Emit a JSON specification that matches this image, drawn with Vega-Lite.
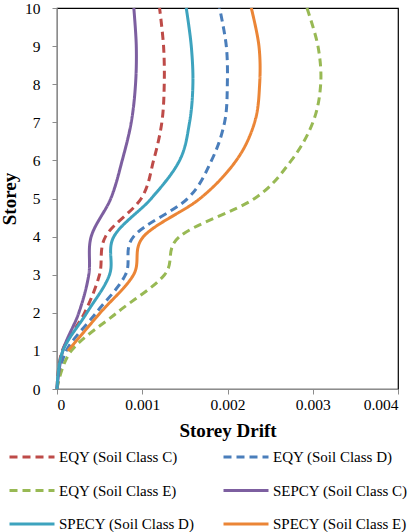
{
  "$schema": "https://vega.github.io/schema/vega-lite/v6.json",
  "width": 341,
  "height": 381,
  "autosize": {"type": "none"},
  "padding": {"left": 57, "top": 8, "right": 21, "bottom": 143},
  "background": "white",
  "config": {
    "view": {"stroke": "#000000", "strokeWidth": 1.2},
    "font": "Liberation Serif",
    "axis": {
      "grid": false,
      "domainColor": "#8c8c8c",
      "tickColor": "#8c8c8c",
      "tickSize": 5,
      "labelFont": "Liberation Serif",
      "labelFontSize": 15.5,
      "labelColor": "#000000",
      "titleFont": "Liberation Serif",
      "titleFontWeight": "bold",
      "titleFontSize": 19,
      "titleColor": "#000000"
    }
  },
  "data": {
    "values": [
      {"series": "EQY (Soil Class C)", "storey": 0, "drift": 0},
      {"series": "EQY (Soil Class C)", "storey": 1, "drift": 0.000061},
      {"series": "EQY (Soil Class C)", "storey": 2, "drift": 0.000323},
      {"series": "EQY (Soil Class C)", "storey": 3, "drift": 0.000499},
      {"series": "EQY (Soil Class C)", "storey": 4, "drift": 0.000569},
      {"series": "EQY (Soil Class C)", "storey": 5, "drift": 0.000988},
      {"series": "EQY (Soil Class C)", "storey": 6, "drift": 0.001133},
      {"series": "EQY (Soil Class C)", "storey": 7, "drift": 0.00123},
      {"series": "EQY (Soil Class C)", "storey": 8, "drift": 0.001258},
      {"series": "EQY (Soil Class C)", "storey": 9, "drift": 0.00125},
      {"series": "EQY (Soil Class C)", "storey": 10, "drift": 0.001203},

      {"series": "EQY (Soil Class D)", "storey": 0, "drift": 0},
      {"series": "EQY (Soil Class D)", "storey": 1, "drift": 0.000108},
      {"series": "EQY (Soil Class D)", "storey": 2, "drift": 0.00046},
      {"series": "EQY (Soil Class D)", "storey": 3, "drift": 0.000804},
      {"series": "EQY (Soil Class D)", "storey": 4, "drift": 0.000898},
      {"series": "EQY (Soil Class D)", "storey": 5, "drift": 0.001532},
      {"series": "EQY (Soil Class D)", "storey": 6, "drift": 0.001813},
      {"series": "EQY (Soil Class D)", "storey": 7, "drift": 0.001966},
      {"series": "EQY (Soil Class D)", "storey": 8, "drift": 0.001998},
      {"series": "EQY (Soil Class D)", "storey": 9, "drift": 0.001986},
      {"series": "EQY (Soil Class D)", "storey": 10, "drift": 0.001907},

      {"series": "EQY (Soil Class E)", "storey": 0, "drift": 0},
      {"series": "EQY (Soil Class E)", "storey": 1, "drift": 0.000167},
      {"series": "EQY (Soil Class E)", "storey": 2, "drift": 0.000702},
      {"series": "EQY (Soil Class E)", "storey": 3, "drift": 0.001262},
      {"series": "EQY (Soil Class E)", "storey": 4, "drift": 0.001438},
      {"series": "EQY (Soil Class E)", "storey": 5, "drift": 0.002318},
      {"series": "EQY (Soil Class E)", "storey": 6, "drift": 0.002749},
      {"series": "EQY (Soil Class E)", "storey": 7, "drift": 0.003002},
      {"series": "EQY (Soil Class E)", "storey": 8, "drift": 0.003093},
      {"series": "EQY (Soil Class E)", "storey": 9, "drift": 0.003061},
      {"series": "EQY (Soil Class E)", "storey": 10, "drift": 0.002932},

      {"series": "SEPCY (Soil Class C)", "storey": 0, "drift": 0},
      {"series": "SEPCY (Soil Class C)", "storey": 1, "drift": 0.000068},
      {"series": "SEPCY (Soil Class C)", "storey": 2, "drift": 0.000256},
      {"series": "SEPCY (Soil Class C)", "storey": 3, "drift": 0.000373},
      {"series": "SEPCY (Soil Class C)", "storey": 4, "drift": 0.000401},
      {"series": "SEPCY (Soil Class C)", "storey": 5, "drift": 0.000631},
      {"series": "SEPCY (Soil Class C)", "storey": 6, "drift": 0.000765},
      {"series": "SEPCY (Soil Class C)", "storey": 7, "drift": 0.000871},
      {"series": "SEPCY (Soil Class C)", "storey": 8, "drift": 0.000921},
      {"series": "SEPCY (Soil Class C)", "storey": 9, "drift": 0.00093},
      {"series": "SEPCY (Soil Class C)", "storey": 10, "drift": 0.000901},

      {"series": "SPECY (Soil Class D)", "storey": 0, "drift": 0},
      {"series": "SPECY (Soil Class D)", "storey": 1, "drift": 0.000068},
      {"series": "SPECY (Soil Class D)", "storey": 2, "drift": 0.00035},
      {"series": "SPECY (Soil Class D)", "storey": 3, "drift": 0.000616},
      {"series": "SPECY (Soil Class D)", "storey": 4, "drift": 0.000667},
      {"series": "SPECY (Soil Class D)", "storey": 5, "drift": 0.001106},
      {"series": "SPECY (Soil Class D)", "storey": 6, "drift": 0.001438},
      {"series": "SPECY (Soil Class D)", "storey": 7, "drift": 0.001555},
      {"series": "SPECY (Soil Class D)", "storey": 8, "drift": 0.001594},
      {"series": "SPECY (Soil Class D)", "storey": 9, "drift": 0.001575},
      {"series": "SPECY (Soil Class D)", "storey": 10, "drift": 0.001516},

      {"series": "SPECY (Soil Class E)", "storey": 1, "drift": 0.000127},
      {"series": "SPECY (Soil Class E)", "storey": 2, "drift": 0.000507},
      {"series": "SPECY (Soil Class E)", "storey": 3, "drift": 0.000898},
      {"series": "SPECY (Soil Class E)", "storey": 4, "drift": 0.001015},
      {"series": "SPECY (Soil Class E)", "storey": 5, "drift": 0.001678},
      {"series": "SPECY (Soil Class E)", "storey": 6, "drift": 0.002103},
      {"series": "SPECY (Soil Class E)", "storey": 7, "drift": 0.002318},
      {"series": "SPECY (Soil Class E)", "storey": 8, "drift": 0.002377},
      {"series": "SPECY (Soil Class E)", "storey": 9, "drift": 0.002369},
      {"series": "SPECY (Soil Class E)", "storey": 10, "drift": 0.002279}
    ]
  },
  "mark": {"type": "line", "interpolate": "cardinal", "strokeWidth": 3},
  "encoding": {
    "x": {
      "field": "drift",
      "type": "quantitative",
      "scale": {"domain": [0, 0.004], "nice": false, "zero": true},
      "axis": {
        "values": [0, 0.001, 0.002, 0.003, 0.004],
        "format": ".3~f",
        "title": "Storey Drift",
        "titlePadding": 9,
        "labelPadding": 3
      }
    },
    "y": {
      "field": "storey",
      "type": "quantitative",
      "scale": {"domain": [0, 10], "nice": false},
      "axis": {
        "values": [0, 1, 2, 3, 4, 5, 6, 7, 8, 9, 10],
        "title": "Storey",
        "titlePadding": 5,
        "labelPadding": 12
      }
    },
    "order": {"field": "storey", "type": "quantitative"},
    "color": {
      "field": "series",
      "type": "nominal",
      "scale": {
        "domain": ["EQY (Soil Class C)", "EQY (Soil Class D)", "EQY (Soil Class E)", "SEPCY (Soil Class C)", "SPECY (Soil Class D)", "SPECY (Soil Class E)"],
        "range": ["#BE4B48", "#4A7EBB", "#98B954", "#7D5FA0", "#3DA3BE", "#EB8536"]
      },
      "legend": {
        "title": null,
        "orient": "none",
        "legendX": -49,
        "legendY": 425,
        "columns": 2,
        "direction": "horizontal",
        "columnPadding": 22,
        "rowPadding": 1.5,
        "symbolType": "stroke",
        "symbolSize": 2025,
        "symbolStrokeWidth": 3,
        "labelFont": "Liberation Serif",
        "labelFontSize": 15,
        "labelColor": "#000000",
        "labelOffset": 3,
        "labelLimit": 300
      }
    },
    "strokeDash": {
      "field": "series",
      "type": "nominal",
      "scale": {
        "domain": ["EQY (Soil Class C)", "EQY (Soil Class D)", "EQY (Soil Class E)", "SEPCY (Soil Class C)", "SPECY (Soil Class D)", "SPECY (Soil Class E)"],
        "range": [[8, 5], [8, 5], [8, 5], [1, 0], [1, 0], [1, 0]]
      },
      "legend": {
        "title": null,
        "orient": "none",
        "legendX": -49,
        "legendY": 425,
        "columns": 2,
        "direction": "horizontal",
        "columnPadding": 22,
        "rowPadding": 1.5,
        "symbolType": "stroke",
        "symbolSize": 2025,
        "symbolStrokeWidth": 3,
        "labelFont": "Liberation Serif",
        "labelFontSize": 15,
        "labelColor": "#000000",
        "labelOffset": 3,
        "labelLimit": 300
      }
    }
  }
}
